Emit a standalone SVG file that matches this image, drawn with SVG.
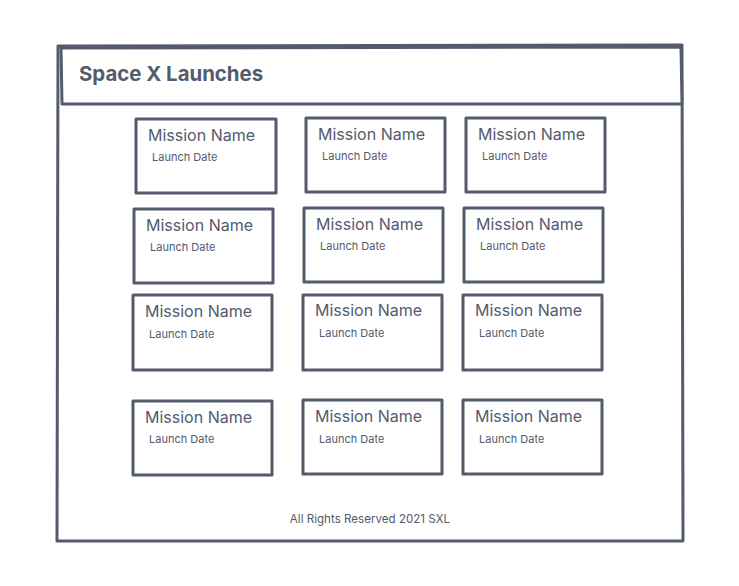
<svg xmlns="http://www.w3.org/2000/svg" width="739" height="586" viewBox="0 0 739 586">
<style>
.frame{fill:#fff;stroke:#535b6d;stroke-width:3;stroke-linejoin:round}
.t{font-family:Inter,"Liberation Sans",sans-serif;fill:#535b6d}
.title{font-size:20.4px;font-weight:700}
.mn{font-size:16px}
.ld{font-size:11px}
.ft{font-size:11.6px}
</style>
<rect width="739" height="586" fill="#fff"/>
<g id="page">
<path class="frame" d="M58,46 L682,45 L683,541 L57,541 Z"/>
</g>
<g id="header">
<path class="frame" d="M61,48 L681,47 L682,104 L62,104 Z"/>
<text class="t title" x="79" y="81">Space X Launches</text>
</g>
<g id="card-1-1"><rect class="frame" x="136" y="119" width="140" height="74"/><text class="t mn" x="148" y="141">Mission Name</text><text class="t ld" x="152" y="161">Launch Date</text></g>
<g id="card-1-2"><rect class="frame" x="306" y="118" width="139" height="74"/><text class="t mn" x="318" y="140">Mission Name</text><text class="t ld" x="322" y="160">Launch Date</text></g>
<g id="card-1-3"><rect class="frame" x="466" y="118" width="139" height="74"/><text class="t mn" x="478" y="140">Mission Name</text><text class="t ld" x="482" y="160">Launch Date</text></g>
<g id="card-2-1"><rect class="frame" x="134" y="209" width="139" height="74"/><text class="t mn" x="146" y="231">Mission Name</text><text class="t ld" x="150" y="251">Launch Date</text></g>
<g id="card-2-2"><rect class="frame" x="304" y="208" width="139" height="74"/><text class="t mn" x="316" y="230">Mission Name</text><text class="t ld" x="320" y="250">Launch Date</text></g>
<g id="card-2-3"><rect class="frame" x="464" y="208" width="139" height="74"/><text class="t mn" x="476" y="230">Mission Name</text><text class="t ld" x="480" y="250">Launch Date</text></g>
<g id="card-3-1"><rect class="frame" x="133" y="295" width="139" height="75"/><text class="t mn" x="145" y="317">Mission Name</text><text class="t ld" x="149" y="338">Launch Date</text></g>
<g id="card-3-2"><rect class="frame" x="303" y="295" width="139" height="75"/><text class="t mn" x="315" y="316">Mission Name</text><text class="t ld" x="319" y="337">Launch Date</text></g>
<g id="card-3-3"><rect class="frame" x="463" y="295" width="139" height="75"/><text class="t mn" x="475" y="316">Mission Name</text><text class="t ld" x="479" y="337">Launch Date</text></g>
<g id="card-4-1"><rect class="frame" x="133" y="401" width="139" height="74"/><text class="t mn" x="145" y="423">Mission Name</text><text class="t ld" x="149" y="443">Launch Date</text></g>
<g id="card-4-2"><rect class="frame" x="303" y="400" width="139" height="74"/><text class="t mn" x="315" y="422">Mission Name</text><text class="t ld" x="319" y="443">Launch Date</text></g>
<g id="card-4-3"><rect class="frame" x="463" y="400" width="139" height="74"/><text class="t mn" x="475" y="422">Mission Name</text><text class="t ld" x="479" y="443">Launch Date</text></g>
<g id="footer"><text class="t ft" x="370" y="523" text-anchor="middle">All Rights Reserved 2021 SXL</text></g>
<g id="connectors"></g>
</svg>
